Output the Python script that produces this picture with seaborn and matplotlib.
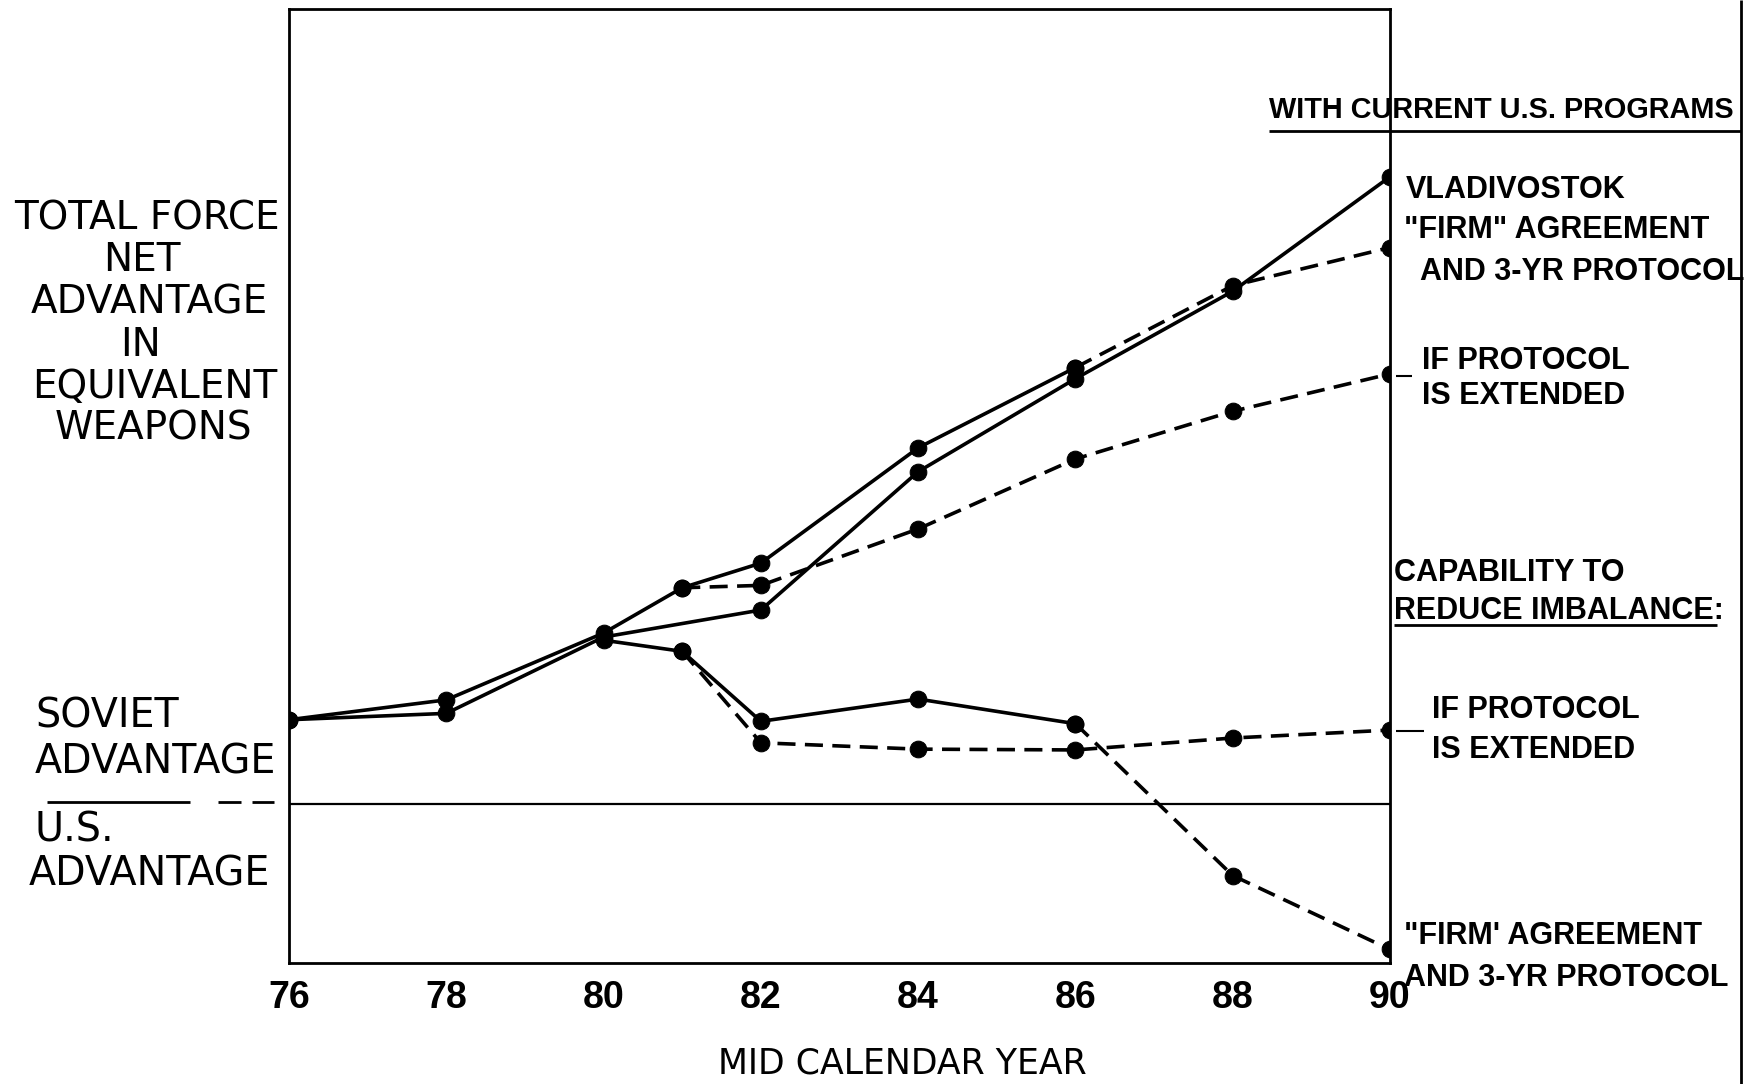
import numpy as np
import pandas as pd
import seaborn as sns
import matplotlib.pyplot as plt
from matplotlib.lines import Line2D

sns.set_style('white')
plt.rcParams['font.family'] = ['Liberation Sans', 'DejaVu Sans']
plt.rcParams['text.color'] = 'black'
plt.rcParams['xtick.color'] = 'black'
plt.rcParams['axes.labelcolor'] = 'black'

# values (units: 0 = parity, + = soviet advantage)
years_firm_hi = [76, 78, 80, 81, 82, 84, 86, 88, 90]
firm_hi = [10.6, 13.1, 21.5, 27.2, 30.3, 44.8, 54.9, 65.2, 70.0]
firm_hi_dash_from = 86

years_vlad = [76, 78, 80, 82, 84, 86, 88, 90]
vlad = [10.6, 11.4, 21.0, 24.4, 41.8, 53.5, 64.5, 78.9]

years_ext_hi = [81, 82, 84, 86, 88, 90]
ext_hi = [27.2, 27.5, 34.6, 43.4, 49.4, 54.1]

years_firm_lo = [80, 81, 82, 84, 86, 88, 90]
firm_lo = [20.6, 19.2, 10.4, 13.2, 10.1, -9.0, -18.3]
firm_lo_dash_from = 86

years_ext_lo = [81, 82, 84, 86, 88, 90]
ext_lo = [19.2, 7.7, 6.9, 6.8, 8.3, 9.3]

xticks = [76, 78, 80, 82, 84, 86, 88, 90]

W, H = 1756, 1084
fig = plt.figure(figsize=(W / 100, H / 100), dpi=100)
ax = fig.add_axes([289 / W, 121 / H, 1101 / W, 954 / H])

dash = (0, (5, 2.6))
lw = 2.6
ms = 12


def draw(xs, ys, ls, ax):
    df = pd.DataFrame({'year': xs, 'val': ys})
    sns.lineplot(data=df, x='year', y='val', ax=ax, color='black', lw=lw,
                 linestyle=ls, marker='o', markersize=ms, markeredgecolor='black',
                 estimator=None, errorbar=None, sort=False)


def draw_split(xs, ys, cut, ax):
    xs = np.array(xs)
    ys = np.array(ys)
    draw(xs[xs <= cut], ys[xs <= cut], '-', ax)
    draw(xs[xs >= cut], ys[xs >= cut], dash, ax)


draw_split(years_firm_hi, firm_hi, firm_hi_dash_from, ax)
draw(years_vlad, vlad, '-', ax)
draw(years_ext_hi, ext_hi, dash, ax)
draw_split(years_firm_lo, firm_lo, firm_lo_dash_from, ax)
draw(years_ext_lo, ext_lo, dash, ax)

ax.axhline(0, color='black', lw=1.6)
ax.set_xlim(76, 90)
ax.set_ylim(-20, 100)
ax.set_xticks(xticks)
ax.set_xticklabels([str(t) for t in xticks], fontsize=27, fontweight='bold')
ax.tick_params(axis='x', direction='in', length=13, width=2, pad=12, color='black')
ax.set_yticks([])
ax.set_ylabel('')
ax.set_xlabel('')
for s in ax.spines.values():
    s.set_visible(True)
    s.set_color('black')
    s.set_linewidth(2)


def ftext(x, y, s, **kw):
    fig.text(x / W, 1 - y / H, s, va='center', **kw)


def fline(x0, x1, y0, y1, **kw):
    fig.add_artist(Line2D([x0 / W, x1 / W], [1 - y0 / H, 1 - y1 / H], color='black',
                          solid_capstyle='butt', **kw))


ftext(902, 1064, 'MID CALENDAR YEAR', fontsize=25, family=['DejaVu Sans'], ha='center')

# left titles
wide = dict(fontsize=28, family=['DejaVu Sans'], ha='center')
left_lines = ['TOTAL FORCE', 'NET', 'ADVANTAGE', 'IN', 'EQUIVALENT', 'WEAPONS']
left_x = [147, 142, 149, 140, 155, 153]
for i, (t, lx) in enumerate(zip(left_lines, left_x)):
    ftext(lx, 218 + i * 42.2, t, **wide)

side = dict(fontsize=28.5, family=['DejaVu Sans'], ha='left')
ftext(35, 717, 'SOVIET', **side)
ftext(35, 762, 'ADVANTAGE', **side)
ftext(35, 830, 'U.S.', **side)
ftext(29, 875, 'ADVANTAGE', **side)
fline(47, 190, 802, 802, lw=2)
fline(218, 241, 802, 802, lw=2)
fline(252, 274, 802, 802, lw=2)

# right annotations
rb = dict(fontsize=22, fontweight='bold', ha='left')
ftext(1269, 110, 'WITH CURRENT U.S. PROGRAMS', fontsize=20.8, fontweight='bold', ha='left')
fline(1269, 1741, 131, 131, lw=2)
ftext(1406, 190, 'VLADIVOSTOK', **rb)
ftext(1404, 230, '"FIRM" AGREEMENT', **rb)
ftext(1420, 272, 'AND 3-YR PROTOCOL', **rb)
ftext(1422, 361, 'IF PROTOCOL', **rb)
ftext(1422, 396, 'IS EXTENDED', **rb)
fline(1396, 1412, 376, 376, lw=1.5)

ftext(1394, 573, 'CAPABILITY TO', **rb)
ftext(1394, 611, 'REDUCE IMBALANCE:', **rb)
fline(1394, 1717, 625, 625, lw=2)
ftext(1432, 710, 'IF PROTOCOL', **rb)
ftext(1432, 750, 'IS EXTENDED', **rb)
fline(1396, 1424, 731, 731, lw=1.5)
ftext(1404, 936, '"FIRM\' AGREEMENT', **rb)
ftext(1404, 978, 'AND 3-YR PROTOCOL', **rb)

# page edge
fline(1741, 1741, 0, 1084, lw=2)

fig.savefig('out.png', dpi=100)
